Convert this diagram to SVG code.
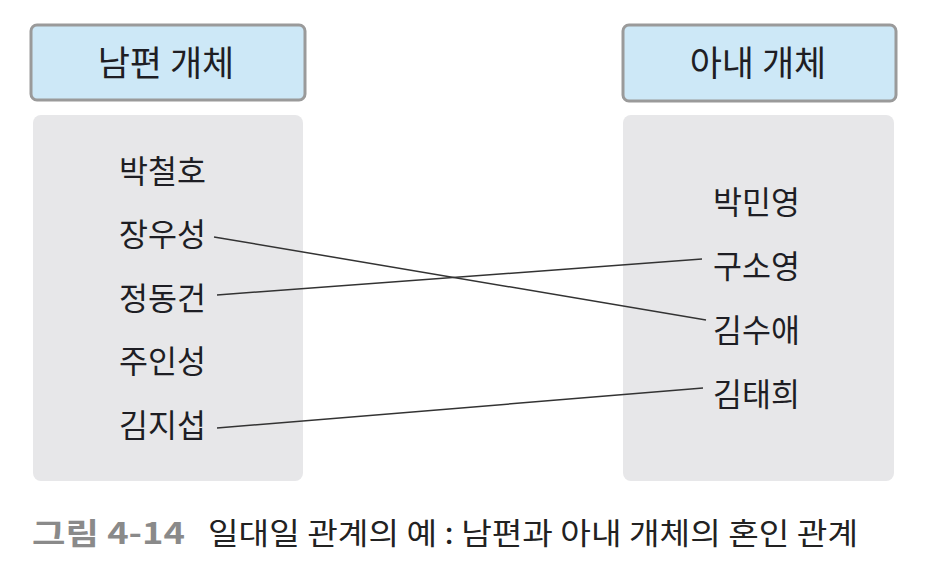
<svg xmlns="http://www.w3.org/2000/svg" width="927" height="576" viewBox="0 0 927 576">
<style>
  .hdr { fill: #cde8f7; stroke: #9a9a9a; stroke-width: 3; }
  .panel { fill: #e7e7e9; }
  .htxt { font-family: "Noto Sans CJK KR", "Noto Sans", sans-serif; font-size: 35px; fill: #1e1e24; text-anchor: middle; }
  .name { font-family: "Noto Sans CJK KR", "Noto Sans", sans-serif; font-size: 31.5px; fill: #1e1e24; }
  .conn line { stroke: #333; stroke-width: 1.5; fill: none; }
  .cap { font-family: "Noto Sans CJK KR", "Noto Sans", sans-serif; font-size: 30px; }
</style>
<rect width="927" height="576" fill="#ffffff"/>

<g id="husband-entity">
  <rect class="hdr" x="31" y="25" width="274" height="75" rx="6"/>
  <text class="htxt" x="166" y="76">남편 개체</text>
  <rect class="panel" x="33" y="115" width="270" height="366" rx="8"/>
</g>
<g id="wife-entity">
  <rect class="hdr" x="623" y="25" width="273" height="76" rx="6"/>
  <text class="htxt" x="758" y="76">아내 개체</text>
  <rect class="panel" x="623" y="115" width="271" height="366" rx="8"/>
</g>

<g id="h1"><text class="name" x="119" y="182.5">박철호</text></g>
<g id="h2"><text class="name" x="119" y="246">장우성</text></g>
<g id="h3"><text class="name" x="119" y="309.5">정동건</text></g>
<g id="h4"><text class="name" x="119" y="373">주인성</text></g>
<g id="h5"><text class="name" x="119" y="436.5">김지섭</text></g>

<g id="w1"><text class="name" x="713" y="213.5">박민영</text></g>
<g id="w2"><text class="name" x="713" y="277.5">구소영</text></g>
<g id="w3"><text class="name" x="713" y="341.5">김수애</text></g>
<g id="w4"><text class="name" x="713" y="405.5">김태희</text></g>

<g id="connectors" class="conn">
  <line x1="214" y1="237" x2="706" y2="320"/>
  <line x1="217" y1="295" x2="702" y2="259"/>
  <line x1="217" y1="428" x2="703" y2="388"/>
</g>

<g id="caption">
  <text class="cap" x="32" y="544" fill="#8a8a8a" font-weight="bold" textLength="153" lengthAdjust="spacingAndGlyphs">그림 4-14</text>
  <text class="cap" x="208" y="544" fill="#222" textLength="650" lengthAdjust="spacingAndGlyphs">일대일 관계의 예 : 남편과 아내 개체의 혼인 관계</text>
</g>
</svg>
